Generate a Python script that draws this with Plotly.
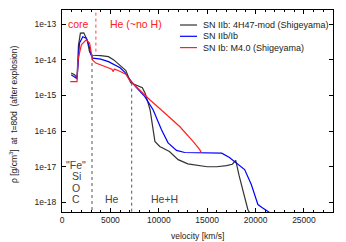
import numpy as np
import plotly.graph_objects as go

# ---- data (velocity in km/s, log10 density in g/cm^3) ----
v_4h47 = [950, 1300, 1550, 1650, 1700, 1900, 2250, 2600, 2850, 3050, 3200, 4000, 4800, 5350,
          6000, 6600, 7100, 7600, 8050, 8300, 8600, 9100, 9600, 10100, 11100, 12000, 13000,
          14000, 15000, 16000, 17000, 17600, 17950, 18300, 18700, 19200, 19500]
logrho_4h47 = [-14.37, -14.42, -14.50, -14.10, -13.60, -13.25, -13.24, -13.44, -13.78, -13.86,
               -13.87, -13.88, -13.91, -14.00, -14.15, -14.30, -14.64, -14.70, -14.75, -14.78,
               -14.94, -15.40, -16.29, -16.43, -16.57, -16.80, -16.92, -16.97, -17.00, -17.00,
               -16.97, -16.93, -16.82, -17.25, -17.64, -18.20, -18.35]

v_iib = [950, 1300, 1550, 1650, 1800, 2150, 2500, 2800, 3000, 3200, 4000, 4800, 5500, 6000,
         6500, 7000, 7600, 8000, 8560, 9410, 10280, 10960, 11830, 12680, 14000, 15500, 16500,
         17300, 18000, 18870, 19560, 20240, 20700, 21270, 21700]
logrho_iib = [-14.42, -14.48, -14.53, -14.20, -13.53, -13.35, -13.39, -13.60, -13.86, -13.95,
              -13.98, -14.05, -14.14, -14.22, -14.35, -14.55, -14.75, -14.86, -15.03, -15.40,
              -15.96, -16.33, -16.54, -16.60, -16.61, -16.61, -16.62, -16.74, -16.89, -17.08,
              -17.50, -18.06, -18.15, -18.25, -18.33]

v_m40 = [850, 1300, 1550, 1650, 2000, 2500, 2850, 3150, 3500, 4100, 4800, 5150, 5300, 5400,
         5800, 6600, 7000, 8000, 9070, 10440, 12160, 13540, 14230, 14400]
logrho_m40 = [-14.61, -14.61, -14.61, -14.00, -13.58, -13.44, -13.53, -14.00, -14.09, -14.15,
              -14.22, -14.26, -14.33, -14.26, -14.30, -14.40, -14.58, -14.85, -15.12, -15.45,
              -15.87, -16.29, -16.52, -16.61]

series_names = ["SN IIb: 4H47-mod (Shigeyama)", "SN IIb/Ib", "SN Ib: M4.0 (Shigeyama)"]

# composition boundaries (km/s) and density where dividers start
shell_bounds = [3100, 7200]
shell_bound_top = [-13.92, -14.64]
core_bound = 3500
core_bound_bottom = -13.86

x_ticks = [0, 5000, 10000, 15000, 20000, 25000]
y_tick_exp = [-18, -17, -16, -15, -14, -13]
y_tick_text = ["1e-18", "1e-17", "1e-16", "1e-15", "1e-14", "1e-13"]

X_RANGE = [0, 28000]
Y_RANGE = [-18.27, -12.6]

FONT = "Liberation Sans, Arial, sans-serif"
colors = ["#333333", "#0000ff", "#ff2020"]

fig = go.Figure()
for v, lr, name, c in zip([v_4h47, v_iib, v_m40], [logrho_4h47, logrho_iib, logrho_m40],
                          series_names, colors):
    fig.add_trace(go.Scatter(x=v, y=[10 ** a for a in lr], mode="lines", name=name,
                             line=dict(color=c, width=1.2), showlegend=False))

# dividers
for b, top in zip(shell_bounds, shell_bound_top):
    fig.add_trace(go.Scatter(x=[b, b], y=[10 ** top, 1e-19], mode="lines",
                             line=dict(color="#555555", width=1, dash="dot"),
                             showlegend=False, hoverinfo="skip"))
fig.add_trace(go.Scatter(x=[core_bound, core_bound], y=[1e-12, 10 ** core_bound_bottom],
                         mode="lines", line=dict(color="#ff4040", width=1, dash="dot"),
                         showlegend=False, hoverinfo="skip"))

W, H = 346, 242
L, R, T, B = 62, 13, 10, 30
pw, ph = W - L - R, H - T - B


def px(xp):
    return (xp - L) / pw


def py(yp):
    return (H - B - yp) / ph


annotations = []
# manual legend
rows = [25, 36.3, 47.6]
for name, c, yr in zip(series_names, colors, rows):
    fig.add_shape(type="line", xref="paper", yref="paper", x0=px(180), x1=px(197),
                  y0=py(yr), y1=py(yr), line=dict(color=c, width=1.2))
    annotations.append(dict(xref="paper", yref="paper", x=px(201), y=py(yr), text=name,
                            showarrow=False, xanchor="left", yanchor="middle",
                            font=dict(size=9, color="#222222", family=FONT)))

# region labels (red)
annotations.append(dict(x=1720, y=-12.99, text="core", showarrow=False, xanchor="center",
                        yanchor="middle", font=dict(size=10.5, color="#ff2020", family=FONT)))
annotations.append(dict(x=4750, y=-12.99, text="He (~no H)", showarrow=False, xanchor="left",
                        yanchor="middle", font=dict(size=10.5, color="#ff2020", family=FONT)))
# composition labels (gray)
for txt, ylog in zip(['"Fe"', "Si", "O", "C"], [-16.94, -17.27, -17.59, -17.90]):
    annotations.append(dict(x=1450, y=ylog, text=txt, showarrow=False, xanchor="center",
                            yanchor="middle", font=dict(size=10.5, color="#444444", family=FONT)))
annotations.append(dict(x=5150, y=-17.90, text="He", showarrow=False, xanchor="center",
                        yanchor="middle", font=dict(size=10.5, color="#444444", family=FONT)))
annotations.append(dict(x=10600, y=-17.90, text="He+H", showarrow=False, xanchor="center",
                        yanchor="middle", font=dict(size=10.5, color="#444444", family=FONT)))
# axis titles
annotations.append(dict(xref="paper", yref="paper", x=px(197), y=py(236),
                        text="velocity [km/s]", showarrow=False, xanchor="center",
                        yanchor="middle", font=dict(size=8.5, color="#222222", family=FONT)))
annotations.append(dict(xref="paper", yref="paper", x=px(13), y=py(114),
                        text="ρ [g/cm<sup>3</sup>]  at  t=80d  (after explosion)",
                        textangle=-90, showarrow=False, xanchor="center", yanchor="middle",
                        font=dict(size=8.5, color="#222222", family=FONT)))

fig.update_layout(
    width=W, height=H, margin=dict(l=L, r=R, t=T, b=B, autoexpand=False),
    paper_bgcolor="white", plot_bgcolor="white",
    annotations=annotations,
    font=dict(family=FONT, size=8.5, color="#222222"),
)
fig.update_xaxes(range=X_RANGE, tickvals=x_ticks, ticktext=[str(t) for t in x_ticks],
                 ticks="inside", ticklen=4, tickcolor="black", showline=True,
                 linecolor="black", linewidth=1, mirror="allticks", showgrid=False,
                 zeroline=False, tickfont=dict(size=8.5, color="#222222"), automargin=False,
                 minor=dict(ticks="inside", ticklen=2, dtick=1000, tickcolor="black",
                            showgrid=False))
fig.update_yaxes(type="log", range=Y_RANGE, tickvals=[10 ** e for e in y_tick_exp],
                 ticktext=y_tick_text, ticks="inside", ticklen=4, tickcolor="black",
                 showline=True, linecolor="black", linewidth=1, mirror="allticks",
                 showgrid=False, zeroline=False, tickfont=dict(size=8.5, color="#222222"),
                 ticklabelstandoff=3, automargin=False)

fig.write_html("out.html",
               config={"displayModeBar": False, "staticPlot": True},
               post_script="document.body.style.margin='0px';"
                           "document.body.style.overflow='hidden';")
